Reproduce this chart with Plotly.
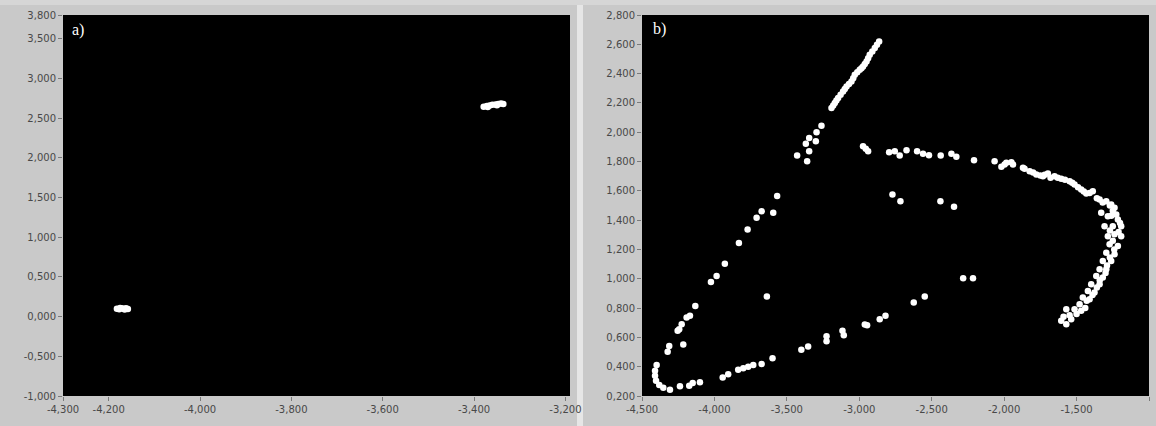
import plotly.graph_objects as go
from plotly.subplots import make_subplots

# ---- panel a) data ----
a_x = [-4.182, -4.177, -4.172, -4.167, -4.162, -4.158, -4.175, -4.165]
a_y = [0.100, 0.092, 0.106, 0.098, 0.104, 0.096, 0.110, 0.090]
a2_x = [-3.379, -3.372, -3.366, -3.360, -3.353, -3.347, -3.341, -3.336, -3.370, -3.350]
a2_y = [2.645, 2.655, 2.660, 2.668, 2.672, 2.680, 2.686, 2.680, 2.640, 2.662]

# ---- panel b) data ----
b_x = [-3.771, -3.831, -3.928, -3.985, -4.024, -3.638, -4.132, -4.169, -4.192, -4.226,
       -4.243, -4.254, -4.215, -4.312, -4.323, -4.399, -4.410, -4.410, -4.403, -4.381,
       -4.353, -4.307, -4.238, -4.174, -4.150, -4.100, -3.943, -3.905, -3.836, -3.801,
       -3.767, -3.732, -3.674, -3.599, -3.400, -3.353, -3.226, -3.226, -3.116, -3.107,
       -2.962, -2.946, -2.859, -2.819, -2.624, -2.548, -2.283, -2.215,
       -2.863, -2.893, -2.928, -2.950, -2.974, -2.997, -3.031, -3.054, -3.088, -3.112,
       -3.146, -3.169, -3.192, -3.261, -3.295, -3.346, -3.300, -3.369, -3.346, -3.429,
       -3.360, -3.567, -3.674, -3.594, -3.709,
       -2.974, -2.939, -2.955, -2.794, -2.755, -2.721, -2.674, -2.601, -2.560, -2.519,
       -2.438, -2.364, -2.330, -2.208, -2.066, -2.019, -1.985, -1.939, -1.870, -1.824,
       -1.778, -1.859, -1.732, -1.698, -1.652, -1.606, -1.548, -1.514, -1.468, -1.433,
       -1.388, -1.341, -1.295, -1.261, -1.238, -1.330, -1.284, -1.226, -1.215, -1.307,
       -1.250, -1.192, -1.284, -1.238, -1.192, -1.272, -1.215, -1.295, -1.238, -1.319,
       -1.261, -1.341, -1.295, -1.364, -1.319, -1.399, -1.341, -1.422, -1.376, -1.457,
       -1.410, -1.479, -1.514, -1.468, -1.571, -1.606, -1.571, -1.537, -1.548,
       -2.771, -2.716, -2.440, -2.346, -1.997, -1.950,
       -2.878, -2.910, -2.939, -2.962, -2.985, -3.014, -3.042, -3.071, -3.100, -3.129,
       -3.158, -3.180,
       -1.800, -1.750, -1.720, -1.680, -1.630, -1.580, -1.530, -1.490, -1.450, -1.410,
       -1.360, -1.320, -1.270, -1.250, -1.260, -1.200, -1.270, -1.210, -1.250, -1.240,
       -1.270, -1.290, -1.300, -1.340, -1.360, -1.390, -1.430, -1.440, -1.500, -1.590]
b_y = [1.337, 1.244, 1.103, 1.019, 0.978, 0.879, 0.815, 0.747, 0.736, 0.690,
       0.656, 0.645, 0.552, 0.542, 0.502, 0.411, 0.372, 0.338, 0.304, 0.275,
       0.257, 0.243, 0.266, 0.270, 0.288, 0.293, 0.327, 0.348, 0.379, 0.389,
       0.399, 0.411, 0.418, 0.457, 0.515, 0.538, 0.608, 0.574, 0.645, 0.615,
       0.688, 0.683, 0.724, 0.747, 0.838, 0.879, 1.003, 1.003,
       2.619, 2.574, 2.528, 2.483, 2.448, 2.426, 2.392, 2.346, 2.312, 2.278,
       2.233, 2.199, 2.165, 2.045, 2.000, 1.961, 1.938, 1.922, 1.870, 1.841,
       1.802, 1.564, 1.461, 1.450, 1.416,
       1.904, 1.870, 1.888, 1.863, 1.870, 1.841, 1.877, 1.870, 1.854, 1.843,
       1.841, 1.854, 1.832, 1.809, 1.802, 1.764, 1.791, 1.779, 1.757, 1.734,
       1.711, 1.750, 1.700, 1.718, 1.700, 1.682, 1.666, 1.643, 1.609, 1.582,
       1.598, 1.541, 1.529, 1.507, 1.485, 1.450, 1.427, 1.439, 1.405, 1.359,
       1.359, 1.359, 1.291, 1.303, 1.291, 1.235, 1.223, 1.178, 1.167, 1.121,
       1.121, 1.065, 1.065, 1.019, 1.008, 0.962, 0.962, 0.917, 0.906, 0.872,
       0.860, 0.826, 0.792, 0.781, 0.792, 0.713, 0.690, 0.724, 0.751,
       1.575, 1.529, 1.529, 1.491, 1.779, 1.795,
       2.597, 2.551, 2.505, 2.466, 2.437, 2.409, 2.369, 2.329, 2.295, 2.256,
       2.216, 2.182,
       1.725, 1.705, 1.710, 1.690, 1.690, 1.675, 1.655, 1.625, 1.595, 1.585,
       1.550, 1.520, 1.500, 1.465, 1.430, 1.380, 1.330, 1.320, 1.260, 1.200,
       1.145, 1.090, 1.040, 0.990, 0.940, 0.890, 0.850, 0.800, 0.760, 0.740]

# ---- ticks ----
a_xticks = [-4.3, -4.2, -4.0, -3.8, -3.6, -3.4, -3.2]
a_yticks = [-1.0, -0.5, 0.0, 0.5, 1.0, 1.5, 2.0, 2.5, 3.0, 3.5, 3.8]
b_xticks = [-4.5, -4.0, -3.5, -3.0, -2.5, -2.0, -1.5, -1.0]
b_yticks = [0.2, 0.4, 0.6, 0.8, 1.0, 1.2, 1.4, 1.6, 1.8, 2.0, 2.2, 2.4, 2.6, 2.8]


def fmt(vals):
    return [f"{v:.3f}".replace(".", ",") for v in vals]


W, H = 1156, 426
fig = make_subplots(rows=1, cols=2)

mk = dict(color="white", size=6.5, line=dict(width=0))
fig.add_trace(go.Scatter(x=a_x, y=a_y, mode="markers", marker=mk, showlegend=False), 1, 1)
fig.add_trace(go.Scatter(x=a2_x, y=a2_y, mode="markers", marker=mk, showlegend=False), 1, 1)
fig.add_trace(go.Scatter(x=b_x, y=b_y, mode="markers", marker=mk, showlegend=False), 1, 2)

tickfont = dict(family="DejaVu Sans", size=10, color="#484848")
common = dict(showgrid=False, zeroline=False, showline=False, ticks="outside",
              ticklen=4, tickcolor="#7a7a7a", tickwidth=1, tickfont=tickfont,
              automargin=False)

top_px, bot_px = 15, 396
ydom = [(H - bot_px) / H, (H - top_px) / H]

fig.update_xaxes(domain=[63 / W, 570 / W], range=[-4.3, -3.19], tickvals=a_xticks,
                 ticktext=fmt(a_xticks), row=1, col=1, **common)
fig.update_yaxes(domain=ydom, range=[-1.0, 3.8], tickvals=a_yticks,
                 ticktext=fmt(a_yticks), row=1, col=1, **common)
fig.update_xaxes(domain=[642 / W, 1149 / W], range=[-4.5, -1.0], tickvals=b_xticks,
                 ticktext=fmt(b_xticks), row=1, col=2, **common)
fig.update_yaxes(domain=ydom, range=[0.2, 2.8], tickvals=b_yticks,
                 ticktext=fmt(b_yticks), row=1, col=2, **common)

shapes = [
    # light separator between panels
    dict(type="rect", xref="paper", yref="paper", x0=577 / W, x1=583 / W, y0=0, y1=1,
         fillcolor="#e6e6e6", line=dict(width=0), layer="below"),
    # slightly lighter top band
    dict(type="rect", xref="paper", yref="paper", x0=0, x1=1, y0=(H - 5) / H, y1=1,
         fillcolor="#d6d6d6", line=dict(width=0), layer="below"),
]

fig.update_layout(
    width=W, height=H,
    margin=dict(l=0, r=0, t=0, b=0),
    paper_bgcolor="#c9c9c9",
    plot_bgcolor="black",
    shapes=shapes,
    annotations=[
        dict(text="a)", x=70 / W, y=(H - 30) / H, xref="paper", yref="paper",
             xanchor="left", yanchor="middle", showarrow=False,
             font=dict(family="Liberation Serif", size=16, color="white")),
        dict(text="b)", x=651 / W, y=(H - 29) / H, xref="paper", yref="paper",
             xanchor="left", yanchor="middle", showarrow=False,
             font=dict(family="Liberation Serif", size=16, color="white")),
    ],
)

fig.write_html("out.html")
